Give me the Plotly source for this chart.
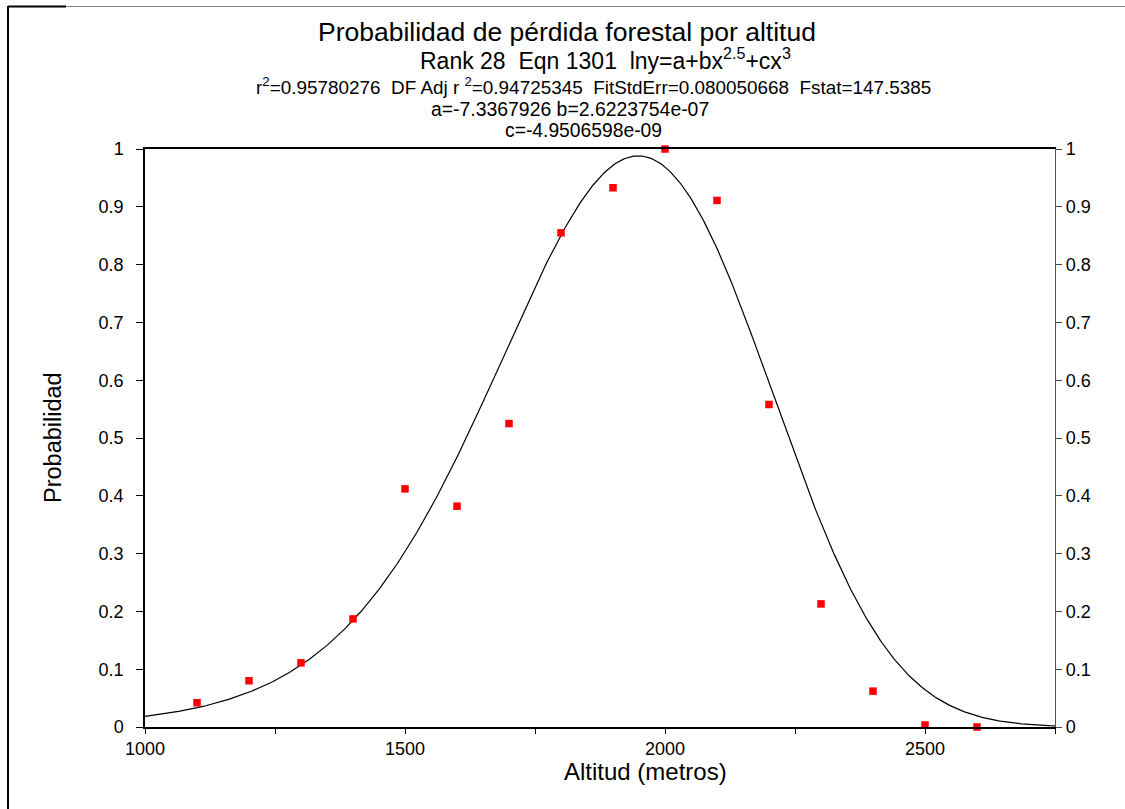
import numpy as np
import plotly.graph_objects as go

# Observed loss probability by altitude class (metres)
altitud = [1100, 1200, 1300, 1400, 1500, 1600, 1700, 1800,
           1900, 2000, 2100, 2200, 2300, 2400, 2500, 2600]
probabilidad = [0.042, 0.080, 0.111, 0.187, 0.412, 0.382, 0.525, 0.855,
                0.933, 1.000, 0.911, 0.558, 0.213, 0.062, 0.0035, 0.0]

# Fitted model: ln y = a + b*x^2.5 + c*x^3
coef_a = -7.3367926
coef_b = 2.6223754e-07
coef_c = -4.9506598e-09

x_ticks = [1000, 1250, 1500, 1750, 2000, 2250, 2500, 2750]
x_ticktext = ["1000", "", "1500", "", "2000", "", "2500", ""]
y_ticks = [0, 0.1, 0.2, 0.3, 0.4, 0.5, 0.6, 0.7, 0.8, 0.9, 1]
y_ticktext = ["0", "0.1", "0.2", "0.3", "0.4", "0.5", "0.6", "0.7", "0.8", "0.9", "1"]

W, H = 1125, 809
L, R, T, B = 145, 1055, 149, 727
FONT = "Arial, Liberation Sans, sans-serif"
SP2 = "\u00a0 "  # keeps double spacing visible


def px(x):
    return (x - L) / (R - L)


def py(y):
    return (B - y) / (B - T)


xf = np.linspace(1000, 2750, 600)
yf = np.exp(coef_a + coef_b * xf ** 2.5 + coef_c * xf ** 3)

fig = go.Figure()
fig.add_trace(go.Scatter(x=xf, y=yf, mode="lines",
                         line=dict(color="black", width=1.2),
                         hoverinfo="skip", showlegend=False))
fig.add_trace(go.Scatter(x=altitud, y=probabilidad, mode="markers",
                         marker=dict(symbol="square", size=7.5, color="#ff0000",
                                     line=dict(width=0)),
                         showlegend=False, cliponaxis=False))
# trace carrying the right-hand probability axis
fig.add_trace(go.Scatter(x=[1000], y=[0], yaxis="y2", mode="markers",
                         marker=dict(opacity=0), hoverinfo="skip",
                         showlegend=False))

axis_font = dict(family=FONT, size=18, color="black")
fig.update_layout(
    width=W, height=H,
    margin=dict(l=L, r=W - R, t=T, b=H - B),
    paper_bgcolor="white", plot_bgcolor="white",
    font=dict(family=FONT, color="black"),
    xaxis=dict(range=[1000, 2750], tickmode="array", tickvals=x_ticks,
               ticktext=x_ticktext, ticks="outside", ticklen=5,
               tickcolor="black", tickfont=axis_font, showgrid=False,
               zeroline=False, showline=True, linecolor="black", linewidth=1.5,
               mirror=True),
    yaxis=dict(range=[0, 1], tickmode="array", tickvals=y_ticks,
               ticktext=y_ticktext, ticks="outside", ticklen=7,
               tickcolor="black", tickfont=axis_font, showgrid=False,
               zeroline=False, showline=True, linecolor="black", linewidth=1.5,
               ticklabelstandoff=9),
    yaxis2=dict(range=[0, 1], overlaying="y", side="right", tickmode="array",
                tickvals=y_ticks, ticktext=y_ticktext, ticks="outside",
                ticklen=6, tickcolor="#444", tickfont=axis_font,
                showgrid=False, zeroline=False, showline=True,
                linecolor="#555", linewidth=1.2),
)

# header lines
header = [
    ("Probabilidad de pérdida forestal por altitud", 567, 32, 26.5),
    ("Rank 28" + SP2 + "Eqn 1301" + SP2 +
     "lny=a+bx<sup>2.5</sup>+cx<sup>3</sup>", 605, 59, 23),
    ("r<sup>2</sup>=0.95780276" + SP2 + "DF Adj r <sup>2</sup>=0.94725345" + SP2 +
     "FitStdErr=0.080050668" + SP2 + "Fstat=147.5385", 593, 86, 18.9),
    ("a=-7.3367926 b=2.6223754e-07", 570, 109, 19.4),
    ("c=-4.9506598e-09", 583, 131, 19.3),
]
for text, cx, cy, size in header:
    fig.add_annotation(text=text, x=px(cx), y=py(cy), xref="paper",
                       yref="paper", showarrow=False, xanchor="center",
                       yanchor="middle", font=dict(family=FONT, size=size,
                                                   color="black"))

# axis titles
fig.add_annotation(text="Altitud (metros)", x=px(645), y=py(771),
                   xref="paper", yref="paper", showarrow=False,
                   xanchor="center", yanchor="middle",
                   font=dict(family=FONT, size=24, color="black"))
fig.add_annotation(text="Probabilidad", x=px(53), y=py(438),
                   xref="paper", yref="paper", showarrow=False, textangle=-90,
                   xanchor="center", yanchor="middle",
                   font=dict(family=FONT, size=23.5, color="black"))

# page frame lines
fig.add_shape(type="line", xref="paper", yref="paper",
              x0=px(8), x1=px(8), y0=py(6), y1=py(812),
              line=dict(color="black", width=2))
fig.add_shape(type="line", xref="paper", yref="paper",
              x0=px(8), x1=px(66), y0=py(6.5), y1=py(6.5),
              line=dict(color="black", width=2))
fig.add_shape(type="line", xref="paper", yref="paper",
              x0=px(66), x1=px(1125), y0=py(6.5), y1=py(6.5),
              line=dict(color="#888888", width=1.2))

fig.write_html("out.html")
